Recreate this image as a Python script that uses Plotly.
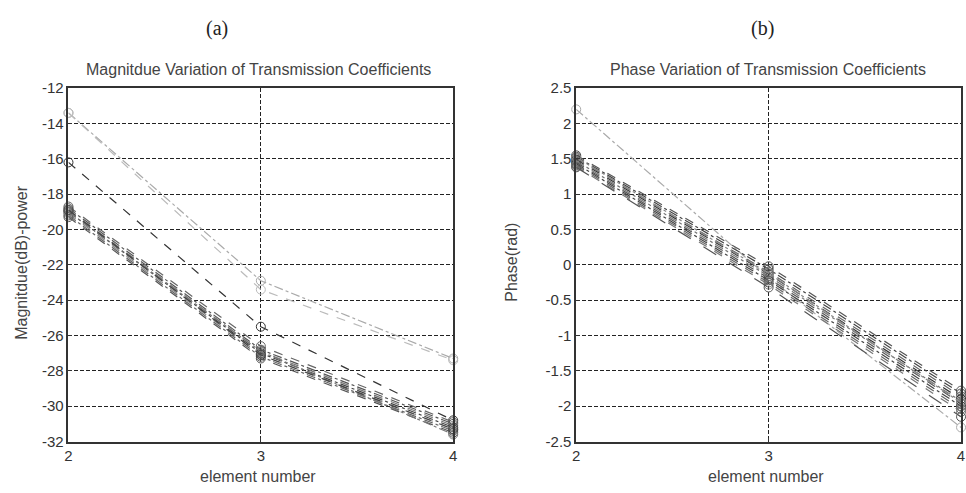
import plotly.graph_objects as go

elements = [2, 3, 4]
element_labels = ["2", "3", "4"]

# Magnitude (dB) per series at elements 2, 3, 4
mag_series = [
    [-13.4, -22.9, -27.3],
    [-13.4, -23.4, -27.4],
    [-16.2, -25.5, -30.8],
    [-18.7, -26.6, -30.9],
    [-18.8, -26.8, -31.0],
    [-18.9, -26.9, -31.1],
    [-19.0, -27.0, -31.2],
    [-19.1, -27.1, -31.3],
    [-19.2, -27.2, -31.4],
    [-19.3, -27.3, -31.5],
    [-19.0, -26.9, -31.6],
    [-18.9, -27.1, -31.3],
]

# Phase (rad) per series at elements 2, 3, 4
phase_series = [
    [2.20, -0.18, -2.30],
    [1.55, -0.02, -1.78],
    [1.53, -0.06, -1.82],
    [1.51, -0.10, -1.86],
    [1.49, -0.13, -1.90],
    [1.47, -0.16, -1.93],
    [1.45, -0.19, -1.96],
    [1.43, -0.22, -2.00],
    [1.41, -0.25, -2.04],
    [1.39, -0.28, -2.08],
    [1.38, -0.32, -2.15],
    [1.52, -0.12, -1.95],
]

mag_ticks = list(range(-32, -11, 2))
mag_ticktext = ["-32", "-30", "-28", "-26", "-24", "-22", "-20", "-18", "-16", "-14", "-12"]
phase_ticks = [-2.5, -2, -1.5, -1, -0.5, 0, 0.5, 1, 1.5, 2, 2.5]
phase_ticktext = ["-2.5", "-2", "-1.5", "-1", "-0.5", "0", "0.5", "1", "1.5", "2", "2.5"]

mag_styles = [
    ("#aaaaaa", "dashdot"), ("#bbbbbb", "dash"), ("#333333", "dash"),
    ("#666666", "dash"), ("#555555", "dashdot"), ("#777777", "dash"),
    ("#444444", "dashdot"), ("#888888", "dash"), ("#666666", "dashdot"),
    ("#555555", "dash"), ("#777777", "dashdot"), ("#444444", "dash"),
]
phase_styles = [
    ("#aaaaaa", "dashdot"), ("#555555", "dash"), ("#444444", "dashdot"),
    ("#666666", "dash"), ("#333333", "dash"), ("#777777", "dashdot"),
    ("#555555", "dash"), ("#444444", "dashdot"), ("#666666", "dash"),
    ("#777777", "dash"), ("#555555", "longdash"), ("#888888", "dashdot"),
]

fig = go.Figure()

for vals, (c, d) in zip(mag_series, mag_styles):
    fig.add_trace(go.Scatter(
        x=elements, y=vals, mode="lines+markers", xaxis="x", yaxis="y",
        line=dict(color=c, dash=d, width=1.2),
        marker=dict(symbol="circle-open", size=9, color=c, line=dict(width=1)),
        showlegend=False, cliponaxis=False))

for vals, (c, d) in zip(phase_series, phase_styles):
    fig.add_trace(go.Scatter(
        x=elements, y=vals, mode="lines+markers", xaxis="x2", yaxis="y2",
        line=dict(color=c, dash=d, width=1.2),
        marker=dict(symbol="circle-open", size=9, color=c, line=dict(width=1)),
        showlegend=False, cliponaxis=False))

axis_common = dict(
    showline=True, linecolor="#333333", linewidth=1.5, mirror=True,
    showgrid=True, gridcolor="#222222", gridwidth=1.2, griddash="4px,2px",
    ticks="inside", ticklen=4, tickcolor="#333333",
    tickfont=dict(family="Liberation Sans, Arial", size=15, color="#333333"),
    zeroline=False,
)

fig.update_layout(
    width=966, height=493,
    margin=dict(l=0, r=0, t=0, b=0),
    paper_bgcolor="white", plot_bgcolor="white",
    xaxis=dict(domain=[0.0673, 0.4689], range=[2, 4], tickvals=elements,
               ticktext=element_labels, anchor="y", **axis_common),
    yaxis=dict(domain=[0.0913, 0.8337], range=[-32, -12], tickvals=mag_ticks,
               ticktext=mag_ticktext, anchor="x", **axis_common),
    xaxis2=dict(domain=[0.5973, 0.999], range=[2, 4], tickvals=elements,
                ticktext=element_labels, anchor="y2", **axis_common),
    yaxis2=dict(domain=[0.0913, 0.8337], range=[-2.5, 2.5], tickvals=phase_ticks,
                ticktext=phase_ticktext, anchor="x2", **axis_common),
)

label_font = dict(family="Liberation Sans, Arial", size=16, color="#444444")
ann = [
    dict(text="(a)", x=215, y=20, font=dict(family="Liberation Serif, Times New Roman", size=20, color="#222222")),
    dict(text="(b)", x=765, y=20, font=dict(family="Liberation Serif, Times New Roman", size=20, color="#222222")),
    dict(text="Magnitdue Variation of Transmission Coefficients", x=257, y=63, font=label_font),
    dict(text="Phase Variation of Transmission Coefficients", x=770, y=63, font=label_font),
    dict(text="element number", x=256, y=484, font=label_font),
    dict(text="element number", x=768, y=484, font=label_font),
    dict(text="Magnitdue(dB)-power", x=18, y=262, textangle=-90, font=label_font),
    dict(text="Phase(rad)", x=512, y=262, textangle=-90, font=label_font),
]
for a in ann:
    fig.add_annotation(
        text=a["text"], xref="paper", yref="paper",
        x=a["x"] / 966, y=1 - a["y"] / 493,
        xanchor="center", yanchor="middle", showarrow=False,
        textangle=a.get("textangle", 0), font=a["font"])

fig.write_html("out.html")
